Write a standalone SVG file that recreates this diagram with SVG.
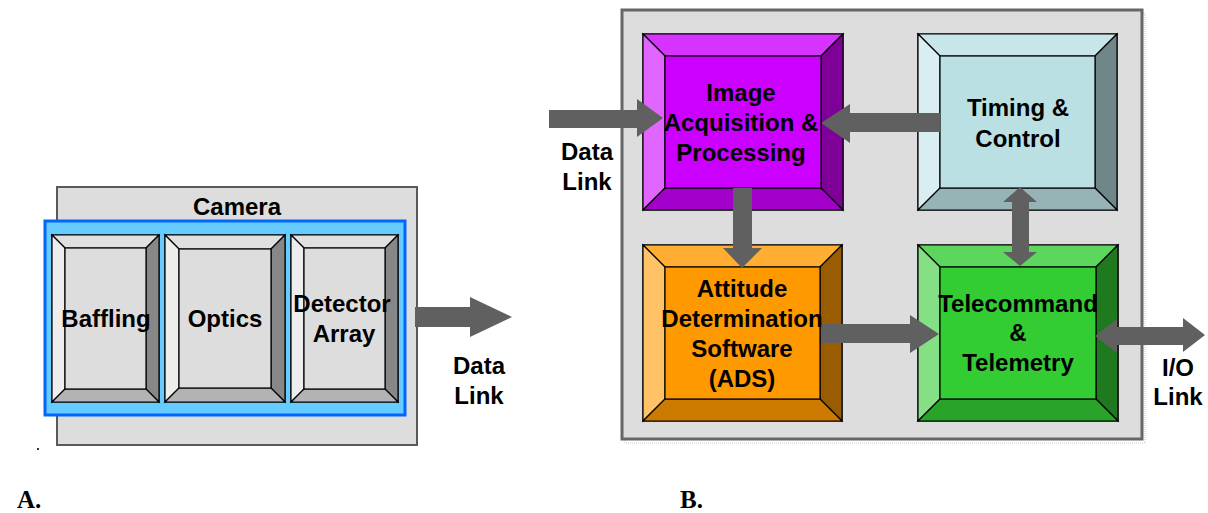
<svg xmlns="http://www.w3.org/2000/svg" width="1208" height="513" viewBox="0 0 1208 513">
  <style>
    .lbl { font-family: "Liberation Sans", Arial, sans-serif; font-weight: bold; font-size: 24px; fill: #000; text-anchor: middle; }
    .cap { font-family: "Liberation Serif", "Times New Roman", serif; font-weight: bold; font-size: 25px; fill: #000; }
    .edge polygon, .edge rect { stroke: #000; stroke-width: 1.2; stroke-linejoin: miter; }
    .arrow { fill: #606060; stroke: none; }
    /* grey bevel */
    .g-face { fill: #DDDDDD; } .g-top { fill: #E0E0E0; } .g-left { fill: #EDEDED; } .g-right { fill: #878787; } .g-bot { fill: #B3B3B3; }
    /* purple bevel */
    .p-face { fill: #CC00FF; } .p-top { fill: #D633FF; } .p-left { fill: #E066FF; } .p-right { fill: #7F0099; } .p-bot { fill: #A300CC; }
    /* teal bevel */
    .t-face { fill: #BAE0E3; } .t-top { fill: #C8E6E9; } .t-left { fill: #D9EEF0; } .t-right { fill: #6F8788; } .t-bot { fill: #96B3B6; }
    /* orange bevel */
    .o-face { fill: #FF9900; } .o-top { fill: #FFAD33; } .o-left { fill: #FFC266; } .o-right { fill: #995C00; } .o-bot { fill: #CC7A00; }
    /* green bevel */
    .n-face { fill: #33CC33; } .n-top { fill: #5CD65C; } .n-left { fill: #85E085; } .n-right { fill: #1F7A1F; } .n-bot { fill: #29A329; }
  </style>

  <rect width="1208" height="513" fill="#FFFFFF"/>

  <!-- ===== A: camera ===== -->
  <g id="camera">
    <rect x="57" y="187" width="360" height="258" fill="#DDDDDD" stroke="#595959" stroke-width="2"/>
    <text class="lbl" x="237" y="215">Camera</text>
    <rect x="45" y="221" width="360" height="194" fill="#66CCFF" stroke="#0066FF" stroke-width="3"/>
  </g>

  <g id="baffling" class="edge">
    <rect class="g-face" x="52" y="235" width="107" height="167"/>
    <polygon class="g-top" points="52,235 159,235 146,248 65,248"/>
    <polygon class="g-left" points="52,235 65,248 65,389 52,402"/>
    <polygon class="g-right" points="159,235 159,402 146,389 146,248"/>
    <polygon class="g-bot" points="52,402 65,389 146,389 159,402"/>
    <rect class="g-face" x="65" y="248" width="81" height="141"/>
    <text class="lbl" x="106" y="327" stroke="none">Baffling</text>
  </g>

  <g id="optics" class="edge">
    <rect class="g-face" x="165" y="235" width="120" height="167"/>
    <polygon class="g-top" points="165,235 285,235 271,249 179,249"/>
    <polygon class="g-left" points="165,235 179,249 179,388 165,402"/>
    <polygon class="g-right" points="285,235 285,402 271,388 271,249"/>
    <polygon class="g-bot" points="165,402 179,388 271,388 285,402"/>
    <rect class="g-face" x="179" y="249" width="92" height="139"/>
    <text class="lbl" x="225" y="327" stroke="none">Optics</text>
  </g>

  <g id="detector" class="edge">
    <rect class="g-face" x="291" y="235" width="107" height="167"/>
    <polygon class="g-top" points="291,235 398,235 385,248 304,248"/>
    <polygon class="g-left" points="291,235 304,248 304,389 291,402"/>
    <polygon class="g-right" points="398,235 398,402 385,389 385,248"/>
    <polygon class="g-bot" points="291,402 304,389 385,389 398,402"/>
    <rect class="g-face" x="304" y="248" width="81" height="141"/>
    <text class="lbl" x="342" y="312" stroke="none">Detector</text>
    <text class="lbl" x="344" y="342" stroke="none">Array</text>
  </g>

  <rect x="37" y="448" width="2" height="2" fill="#333"/>

  <!-- ===== B: processing unit ===== -->
  <g id="unit">
    <rect x="625" y="13" width="520" height="430" fill="none" stroke="#C8C8C8" stroke-width="1" stroke-dasharray="1 1"/>
    <rect x="622" y="10" width="520" height="429" fill="#DDDDDD" stroke="#666666" stroke-width="3"/>
  </g>

  <g id="image-acquisition" class="edge">
    <rect class="p-face" x="643" y="34" width="200" height="176"/>
    <polygon class="p-top" points="643,34 843,34 821,56 665,56"/>
    <polygon class="p-left" points="643,34 665,56 665,188 643,210"/>
    <polygon class="p-right" points="843,34 843,210 821,188 821,56"/>
    <polygon class="p-bot" points="643,210 665,188 821,188 843,210"/>
    <rect class="p-face" x="665" y="56" width="156" height="132"/>
  </g>

  <g id="timing-control" class="edge">
    <rect class="t-face" x="918" y="34" width="199" height="176"/>
    <polygon class="t-top" points="918,34 1117,34 1095,56 940,56"/>
    <polygon class="t-left" points="918,34 940,56 940,188 918,210"/>
    <polygon class="t-right" points="1117,34 1117,210 1095,188 1095,56"/>
    <polygon class="t-bot" points="918,210 940,188 1095,188 1117,210"/>
    <rect class="t-face" x="940" y="56" width="155" height="132"/>
  </g>

  <g id="attitude" class="edge">
    <rect class="o-face" x="643" y="245" width="199" height="176"/>
    <polygon class="o-top" points="643,245 842,245 820,267 665,267"/>
    <polygon class="o-left" points="643,245 665,267 665,399 643,421"/>
    <polygon class="o-right" points="842,245 842,421 820,399 820,267"/>
    <polygon class="o-bot" points="643,421 665,399 820,399 842,421"/>
    <rect class="o-face" x="665" y="267" width="155" height="132"/>
  </g>

  <g id="telecommand" class="edge">
    <rect class="n-face" x="918" y="245" width="200" height="176"/>
    <polygon class="n-top" points="918,245 1118,245 1096,267 940,267"/>
    <polygon class="n-left" points="918,245 940,267 940,399 918,421"/>
    <polygon class="n-right" points="1118,245 1118,421 1096,399 1096,267"/>
    <polygon class="n-bot" points="918,421 940,399 1096,399 1118,421"/>
    <rect class="n-face" x="940" y="267" width="156" height="132"/>
  </g>

  <!-- connectors -->
  <g id="connectors" class="arrow">
    <!-- camera data link out -->
    <polygon points="415,307 470,307 470,297 512,317 470,337 470,327 415,327"/>
    <!-- data link in -->
    <polygon points="549,110 637,110 637,99 663,118 637,137 637,128 549,128"/>
    <!-- timing to image -->
    <polygon points="940,113 850,113 850,104 821,123 850,143 850,132 940,132"/>
    <!-- image to attitude -->
    <polygon points="733,188 752,188 752,248 762,248 742,268 723,248 733,248"/>
    <!-- attitude to telecommand -->
    <polygon points="821,324 910,324 910,315 939,334 910,353 910,343 821,343"/>
    <!-- timing / telecommand -->
    <polygon points="1020,187 1037,202 1029,202 1029,252 1037,252 1020,266 1003,252 1012,252 1012,202 1003,202"/>
    <!-- telecommand / I/O -->
    <polygon points="1095,336 1117,319 1117,327 1183,327 1183,318 1205,335 1183,352 1183,345 1117,345 1117,353"/>
  </g>

  <!-- labels drawn over the arrows -->
  <g id="box-labels">
    <text class="lbl" x="741" y="101">Image</text>
    <text class="lbl" x="741" y="131">Acquisition &amp;</text>
    <text class="lbl" x="741" y="161">Processing</text>
    <text class="lbl" x="1018" y="116">Timing &amp;</text>
    <text class="lbl" x="1018" y="147">Control</text>
    <text class="lbl" x="742" y="297">Attitude</text>
    <text class="lbl" x="742" y="327">Determination</text>
    <text class="lbl" x="742" y="357">Software</text>
    <text class="lbl" x="742" y="387">(ADS)</text>
    <text class="lbl" x="1018" y="312">Telecommand</text>
    <text class="lbl" x="1018" y="341">&amp;</text>
    <text class="lbl" x="1018" y="371">Telemetry</text>
  </g>

  <g id="link-labels">
    <text class="lbl" x="479" y="374">Data</text>
    <text class="lbl" x="479" y="404">Link</text>
    <text class="lbl" x="587" y="160">Data</text>
    <text class="lbl" x="587" y="190">Link</text>
    <text class="lbl" x="1178" y="376">I/O</text>
    <text class="lbl" x="1178" y="405">Link</text>
  </g>

  <text class="cap" x="17" y="508">A.</text>
  <text class="cap" x="680" y="508">B.</text>
</svg>
